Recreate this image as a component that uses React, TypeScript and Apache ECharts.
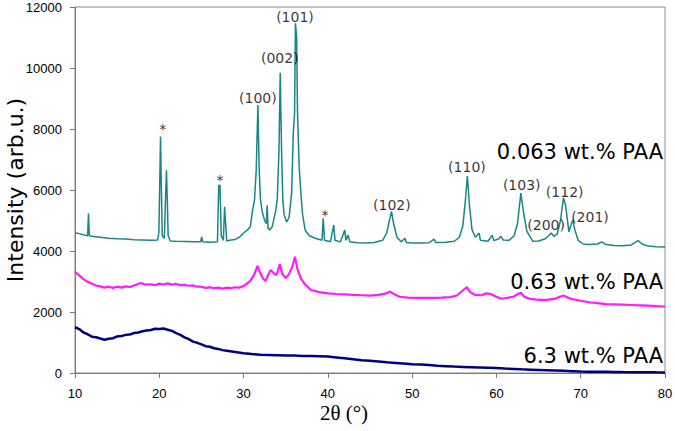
import React, { useEffect, useRef } from "react";
import * as echarts from "echarts";

// 2θ (deg), intensity (arb.u.)
const teal063: [number, number][] = [
  [10, 4600], [10.5, 4570], [11, 4530], [11.5, 4500], [11.6, 5230], [11.7, 4500], [12, 4480], [13, 4450],
  [14, 4420], [15, 4400], [16, 4390], [17, 4370], [18, 4360], [19, 4350], [19.8, 4360], [19.95, 4600],
  [20.05, 6150], [20.15, 7750], [20.25, 6000], [20.35, 4500], [20.6, 4420], [20.75, 5800], [20.85, 6650],
  [20.95, 5700], [21.05, 4500], [21.3, 4330], [22, 4320], [23, 4310], [24, 4300], [24.9, 4300],
  [25.03, 4460], [25.15, 4300], [26, 4290], [26.9, 4300], [27.05, 6150], [27.2, 6160], [27.35, 4500],
  [27.6, 4350], [27.75, 5450], [27.85, 5000], [28, 4330], [28.5, 4360], [29, 4380], [29.5, 4450],
  [30, 4590], [30.5, 4700], [30.8, 4800], [31.1, 5400], [31.3, 5670], [31.5, 6650], [31.7, 8790],
  [31.85, 6700], [32.0, 5700], [32.2, 5300], [32.5, 5000], [32.7, 4900], [32.8, 5500], [32.9, 4750],
  [33.1, 4690], [33.4, 4800], [33.8, 5300], [34.0, 5700], [34.2, 7300], [34.35, 9840], [34.5, 7400],
  [34.65, 5700], [34.8, 5200], [35.1, 4950], [35.4, 5100], [35.7, 5900], [35.9, 7870], [36.05, 8520],
  [36.15, 11470], [36.3, 11000], [36.4, 8520], [36.6, 6750], [36.8, 5900], [37.0, 5200], [37.3, 4690],
  [37.8, 4500], [38.5, 4420], [39.3, 4350], [39.45, 5070], [39.6, 4350], [40.3, 4300], [40.7, 4850],
  [40.85, 4350], [41.5, 4300], [42.0, 4690], [42.15, 4350], [42.4, 4520], [42.6, 4300], [43.5, 4270],
  [44.5, 4260], [45.5, 4280], [46.5, 4350], [47.0, 4600], [47.3, 5000], [47.55, 5300], [47.8, 4900],
  [48.2, 4450], [48.7, 4300], [49.15, 4420], [49.3, 4280], [50, 4260], [51, 4260], [52, 4270],
  [52.6, 4390], [52.8, 4280], [54, 4290], [55, 4320], [55.6, 4450], [56.0, 4800], [56.3, 5600],
  [56.55, 6460], [56.8, 5500], [57.1, 4700], [57.5, 4450], [57.95, 4590], [58.1, 4350], [59, 4320],
  [59.5, 4520], [59.7, 4340], [60.3, 4400], [60.5, 4490], [60.8, 4360], [61.5, 4350], [62.1, 4500],
  [62.5, 4900], [62.9, 5900], [63.2, 5300], [63.6, 4650], [64.3, 4320], [65, 4330], [65.8, 4400],
  [66.2, 4500], [66.5, 4590], [66.8, 4480], [67.2, 4550], [67.6, 5000], [67.95, 5740], [68.2, 5500],
  [68.6, 4630], [68.85, 4850], [69.05, 5020], [69.3, 4700], [69.7, 4350], [70.3, 4230], [71, 4210],
  [72, 4230], [72.5, 4300], [73, 4210], [74, 4180], [75, 4170], [76, 4200], [76.8, 4340], [77.3, 4230],
  [78, 4160], [79, 4140], [80, 4130],
];

const magenta063: [number, number][] = [
  [10, 3320], [10.5, 3200], [11, 3080], [11.5, 2990], [12, 2930], [12.5, 2870], [13, 2840], [13.5, 2800],
  [14, 2830], [14.5, 2790], [15, 2830], [15.5, 2800], [16, 2840], [16.5, 2820], [17, 2870], [17.8, 2950],
  [18.3, 2900], [19, 2910], [19.5, 2880], [20, 2930], [20.5, 2900], [21, 2940], [21.5, 2900], [22, 2920],
  [22.5, 2880], [23, 2890], [23.5, 2860], [24, 2870], [24.5, 2830], [25, 2830], [25.5, 2790], [26, 2810],
  [26.5, 2780], [27, 2800], [27.5, 2770], [28, 2800], [28.5, 2780], [29, 2810], [29.5, 2800],
  [30, 2850], [30.8, 3020], [31.3, 3250], [31.65, 3510], [31.9, 3330], [32.3, 3100], [32.6, 3020],
  [33.2, 3380], [33.8, 3210], [34.0, 3280], [34.3, 3570], [34.6, 3250], [35.0, 3110], [35.4, 3250],
  [35.8, 3500], [36.1, 3810], [36.4, 3400], [36.8, 3100], [37.3, 2900], [38, 2720], [39, 2650],
  [40, 2610], [41, 2590], [42, 2580], [43, 2560], [44, 2550], [45, 2540], [46, 2560], [46.8, 2600],
  [47.4, 2670], [47.9, 2580], [48.5, 2500], [49.5, 2470], [50.5, 2460], [51.5, 2460], [52.5, 2460],
  [53.5, 2470], [54.5, 2490], [55.3, 2540], [55.9, 2680], [56.5, 2820], [56.9, 2650], [57.5, 2560],
  [58.2, 2550], [58.8, 2610], [59.3, 2590], [60, 2500], [60.5, 2440], [61, 2450], [62, 2500],
  [62.6, 2600], [62.9, 2630], [63.3, 2500], [64, 2430], [65, 2400], [66, 2400], [67, 2440], [67.6, 2510],
  [67.95, 2540], [68.4, 2480], [69, 2420], [70, 2370], [71, 2320], [72, 2290], [73, 2260], [74, 2250],
  [75, 2240], [76, 2230], [77, 2220], [78, 2210], [79, 2190], [80, 2180],
];

const navy63: [number, number][] = [
  [10, 1500], [10.5, 1440], [11, 1330], [11.5, 1270], [12, 1190], [12.5, 1170], [13, 1130], [13.5, 1090],
  [14, 1120], [14.5, 1140], [15, 1200], [15.5, 1210], [16, 1250], [16.5, 1260], [17, 1310], [17.5, 1330],
  [18, 1370], [18.5, 1390], [19, 1410], [19.5, 1450], [20, 1440], [20.5, 1460], [21, 1420], [21.5, 1380],
  [22, 1310], [22.5, 1250], [23, 1170], [23.5, 1110], [24, 1030], [24.5, 990], [25, 940], [25.5, 880],
  [26, 860], [26.5, 810], [27, 790], [27.5, 750], [28, 730], [29, 690], [30, 650], [31, 620], [32, 600],
  [33, 590], [34, 580], [35, 570], [36, 570], [37, 560], [38, 560], [39, 550], [40, 540], [41, 510],
  [42, 480], [43, 450], [44, 420], [45, 400], [46, 380], [47, 350], [48, 330], [49, 310], [50, 290],
  [51, 280], [52, 260], [53, 240], [54, 225], [55, 210], [56, 200], [57, 190], [58, 180], [59, 170],
  [60, 160], [61, 145], [62, 135], [63, 120], [64, 110], [65, 100], [66, 90], [67, 80], [68, 70],
  [69, 60], [70, 50], [71, 45], [72, 42], [73, 40], [74, 35], [75, 30], [76, 28], [77, 27], [78, 25],
  [79, 22], [80, 20],
];

const peakLabelX = [31.7, 34.3, 36.1, 47.6, 56.5, 63.0, 68.1, 65.9, 71.1, 20.4, 27.2, 39.66];
const peakLabelY = [9016, 10328, 11672, 5508, 6754, 6164, 5934, 4852, 5115, 8000, 6330, 5190];
const peakLabelText = ["(100)", "(002)", "(101)", "(102)", "(110)", "(103)", "(112)", "(200)", "(201)", "*", "*", "*"];

const sampleNames = ["0.063 wt.% PAA", "0.63 wt.% PAA", "6.3 wt.% PAA"];
const xTicks = [10, 20, 30, 40, 50, 60, 70, 80];
const xTitle = "2\u03b8 (\u00b0)";
const yTitle = "Intensity (arb.u.)";

export default function App() {
  const ref = useRef<HTMLDivElement>(null);
  useEffect(() => {
    if (!ref.current) return;
    const chart = echarts.init(ref.current, null, { renderer: "svg" });
    const labelData = peakLabelX.map((x, i) => ({ value: [x, peakLabelY[i]], name: peakLabelText[i] }));
    chart.setOption({
      animation: false,
      backgroundColor: "#fff",
      grid: {
        left: 75, right: 10, top: 7, bottom: 58,
        containLabel: false, outerBoundsMode: "none",
        show: true, borderColor: "#8c8c8c", borderWidth: 1,
      },
      xAxis: {
        type: "value",
        min: xTicks[0],
        max: xTicks[xTicks.length - 1],
        interval: 10,
        axisLine: { lineStyle: { color: "#7a7a7a", width: 1 } },
        axisTick: { show: true, length: 5, lineStyle: { color: "#7a7a7a" } },
        axisLabel: { fontFamily: "Liberation Sans", fontSize: 13, color: "#000", margin: 14 },
        splitLine: { show: false },
      },
      yAxis: {
        type: "value",
        min: 0,
        max: 12000,
        interval: 2000,
        axisLine: { show: true, lineStyle: { color: "#7a7a7a", width: 1 } },
        axisTick: { show: true, length: 5, lineStyle: { color: "#7a7a7a" } },
        axisLabel: {
          fontFamily: "Liberation Sans",
          fontSize: 13,
          color: "#000",
          margin: 13,
          formatter: (v: number) => String(v),
        },
        splitLine: { show: false },
      },
      series: [
        { name: sampleNames[2], type: "line", data: navy63, showSymbol: false, lineStyle: { color: "#000080", width: 2.5 } },
        { name: sampleNames[1], type: "line", data: magenta063, showSymbol: false, lineStyle: { color: "#ff1aff", width: 2.2 } },
        { name: sampleNames[0], type: "line", data: teal063, showSymbol: false, lineStyle: { color: "#1a8585", width: 1.5 } },
        {
          type: "scatter",
          data: labelData,
          symbolSize: 0,
          silent: true,
          z: 5,
          label: {
            show: true,
            position: "inside",
            formatter: (p: any) => p.name,
            fontFamily: "DejaVu Sans",
            fontSize: 14,
            color: "#000",
          },
        },
      ],
      graphic: [
        { type: "text", right: 12, top: 141, style: { text: sampleNames[0], font: "21px 'DejaVu Sans'", fill: "#000" } },
        { type: "text", right: 12, top: 271, style: { text: sampleNames[1], font: "21px 'DejaVu Sans'", fill: "#000" } },
        { type: "text", right: 12, top: 345, style: { text: sampleNames[2], font: "21px 'DejaVu Sans'", fill: "#000" } },
        {
          type: "text",
          x: 344,
          y: 413,
          style: { text: xTitle, font: "21px 'Liberation Serif'", fill: "#000", align: "center", verticalAlign: "middle" },
        },
        {
          type: "text",
          x: 15,
          y: 190,
          rotation: Math.PI / 2,
          style: { text: yTitle, font: "22px 'DejaVu Sans'", fill: "#000", align: "center", verticalAlign: "middle" },
        },
      ],
    });
    return () => chart.dispose();
  }, []);
  return <div ref={ref} style={{ width: 675, height: 431, position: "absolute", left: 0, top: 0 }} />;
}
